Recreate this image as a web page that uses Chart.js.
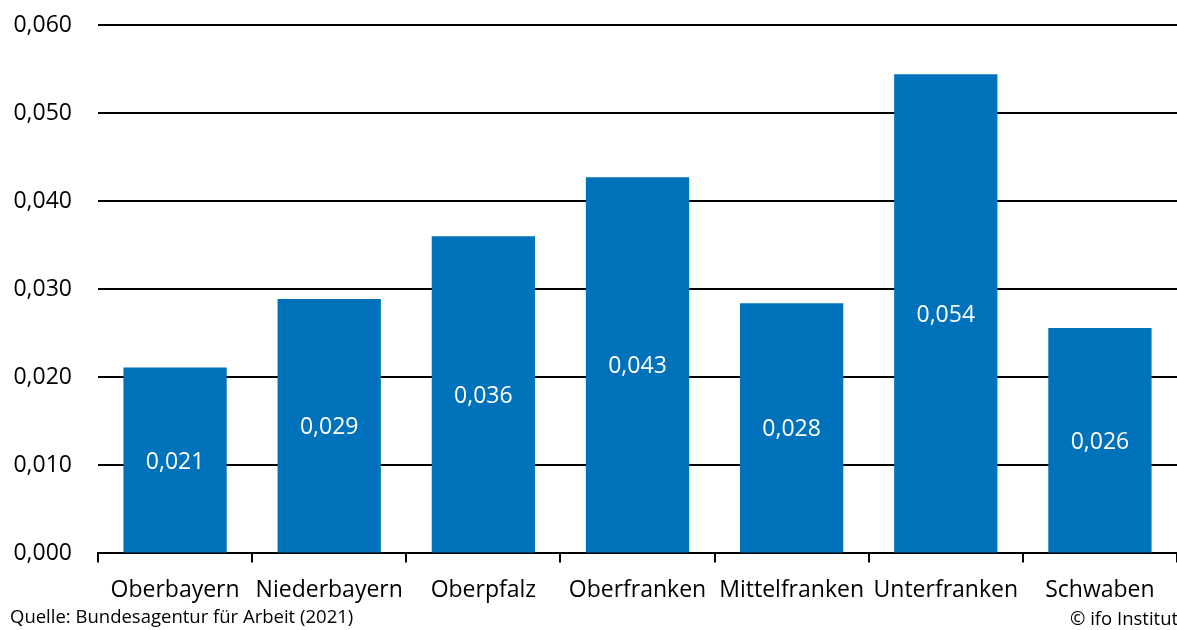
<!DOCTYPE html>
<html><head><meta charset="utf-8">
<script src="https://cdn.jsdelivr.net/npm/chart.js@4/dist/chart.umd.min.js"></script>
<style>html,body{margin:0;padding:0;background:#fff;}#wrap{width:1177px;height:630px;position:relative;}</style>
</head><body><div id="wrap"><canvas id="c" width="1177" height="630"></canvas></div>
<script>
const categories = ["Oberbayern","Niederbayern","Oberpfalz","Oberfranken","Mittelfranken","Unterfranken","Schwaben"];
const values = [0.0211, 0.0289, 0.0360, 0.0427, 0.0284, 0.0544, 0.0256];
const yTicks = [0, 0.01, 0.02, 0.03, 0.04, 0.05, 0.06];
const sourceText = "Quelle: Bundesagentur für Arbeit (2021)";
const copyrightText = "© ifo Institut";
const FONT = "'Open Sans', 'Noto Sans', sans-serif";
const fmt = v => v.toFixed(3).replace('.', ',');

const labelPlugin = {
  id: 'labels',
  afterDatasetsDraw(chart) {
    const ctx = chart.ctx;
    const meta = chart.getDatasetMeta(0);
    ctx.save();
    ctx.fillStyle = '#fff';
    ctx.font = '23px ' + FONT;
    ctx.textAlign = 'center';
    ctx.textBaseline = 'middle';
    meta.data.forEach((bar, i) => {
      const y = (bar.y + bar.base) / 2 + 2;
      ctx.fillText(fmt(values[i]), bar.x, y);
    });
    ctx.restore();
  },
  afterDraw(chart) {
    const ctx = chart.ctx;
    ctx.save();
    ctx.fillStyle = '#000';
    ctx.font = '18.5px ' + FONT;
    ctx.textBaseline = 'middle';
    ctx.textAlign = 'left';
    ctx.fillText(sourceText, 10, 618);
    ctx.fillText(copyrightText, 1070, 620);
    ctx.restore();
  }
};

new Chart(document.getElementById('c'), {
  type: 'bar',
  data: { labels: categories, datasets: [{ data: values, backgroundColor: '#0072BC', barPercentage: 0.67, categoryPercentage: 1 }] },
  options: {
    responsive: false, animation: false,
    layout: { autoPadding: false, padding: { left: 0, right: 0, top: 25, bottom: 12 } },
    plugins: { legend: { display: false }, tooltip: { enabled: false } },
    scales: {
      y: {
        min: 0, max: 0.06,
        afterBuildTicks: s => { s.ticks = yTicks.map(v => ({ value: v })); },
        afterFit: s => { s.width = 98; s.paddingTop = 0; s.paddingBottom = 0; },
        ticks: { callback: v => fmt(v), font: { size: 23, family: FONT }, color: '#000', padding: 26 },
        grid: { color: '#000', lineWidth: 2, drawTicks: false },
        border: { display: false }
      },
      x: {
        grid: { offset: true, drawOnChartArea: false, color: '#000', lineWidth: 2, tickLength: 9 },
        border: { display: true, color: '#000', width: 2 },
        ticks: { font: { size: 23, family: FONT }, color: '#000', padding: 14, maxRotation: 0, autoSkip: false }
      }
    }
  },
  plugins: [labelPlugin]
});
</script></body></html>
